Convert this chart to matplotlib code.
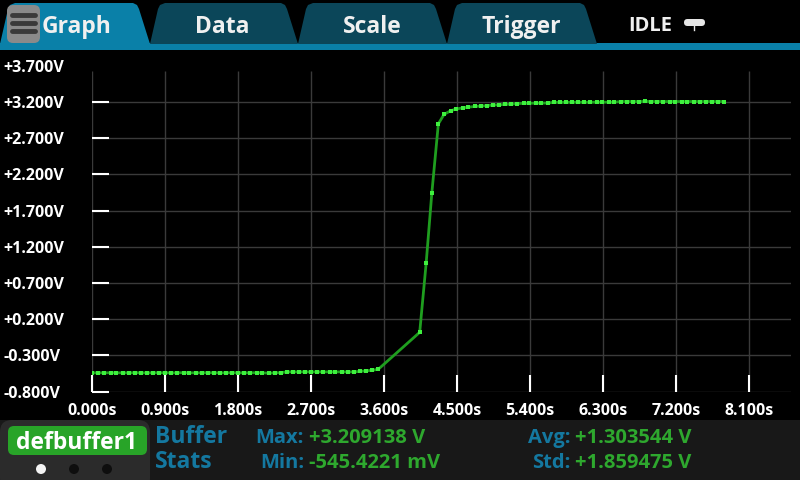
import matplotlib
matplotlib.use('Agg')
import matplotlib.pyplot as plt
from matplotlib.patches import Polygon, Rectangle, FancyBboxPatch, Circle

plt.rcParams['font.family'] = ['Open Sans', 'DejaVu Sans']
plt.rcParams['font.weight'] = 'bold'

# --- data ---
t_low = [0.00, 0.08, 0.15, 0.23, 0.30, 0.38, 0.45, 0.53, 0.60, 0.68, 0.75, 0.83,
         0.90, 0.98, 1.05, 1.13, 1.20, 1.28, 1.35, 1.43, 1.50, 1.58, 1.65, 1.73,
         1.80, 1.88, 1.95, 2.03, 2.10, 2.18, 2.25, 2.33, 2.40, 2.48, 2.55, 2.63,
         2.70, 2.78, 2.85, 2.93, 3.00, 3.08, 3.15, 3.23, 3.30, 3.38, 3.45, 3.53]
v_low = [-0.540, -0.539, -0.540, -0.538, -0.539, -0.540, -0.539, -0.538, -0.539, -0.540, -0.539, -0.538,
         -0.539, -0.540, -0.539, -0.538, -0.539, -0.540, -0.539, -0.538, -0.539, -0.540, -0.539, -0.538,
         -0.539, -0.540, -0.539, -0.538, -0.539, -0.545, -0.539, -0.538, -0.527, -0.526, -0.527, -0.526,
         -0.527, -0.526, -0.527, -0.526, -0.527, -0.526, -0.527, -0.526, -0.520, -0.512, -0.505, -0.490]

t_rise = [4.04, 4.12, 4.19, 4.27]
v_rise = [0.02, 0.98, 1.95, 2.90]

t_high = [4.34, 4.42, 4.49, 4.57, 4.64, 4.72, 4.79, 4.87, 4.94, 5.02, 5.09, 5.17,
          5.24, 5.32, 5.39, 5.47, 5.54, 5.62, 5.69, 5.77, 5.84, 5.92, 5.99, 6.07,
          6.14, 6.22, 6.29, 6.37, 6.44, 6.52, 6.59, 6.67, 6.74, 6.82, 6.89, 6.97,
          7.04, 7.12, 7.19, 7.27, 7.34, 7.42, 7.49, 7.57, 7.64, 7.72, 7.79]
v_high = [3.030, 3.080, 3.105, 3.120, 3.130, 3.140, 3.145, 3.152, 3.158, 3.163, 3.168, 3.172,
          3.180, 3.182, 3.184, 3.185, 3.186, 3.187, 3.197, 3.197, 3.197, 3.198, 3.198, 3.198,
          3.198, 3.199, 3.199, 3.199, 3.199, 3.208, 3.208, 3.208, 3.208, 3.209, 3.208, 3.208,
          3.208, 3.208, 3.208, 3.208, 3.208, 3.208, 3.208, 3.208, 3.208, 3.208, 3.208]

x_ticks = [0.0, 0.9, 1.8, 2.7, 3.6, 4.5, 5.4, 6.3, 7.2, 8.1]
x_labels = ['0.000s', '0.900s', '1.800s', '2.700s', '3.600s', '4.500s',
            '5.400s', '6.300s', '7.200s', '8.100s']
y_ticks = [-0.8, -0.3, 0.2, 0.7, 1.2, 1.7, 2.2, 2.7, 3.2, 3.7]
y_labels = ['-0.800V', '-0.300V', '+0.200V', '+0.700V', '+1.200V', '+1.700V',
            '+2.200V', '+2.700V', '+3.200V', '+3.700V']

tabs = ['Graph', 'Data', 'Scale', 'Trigger']
stats_names = ['Max:', 'Min:', 'Avg:', 'Std:']
stats_values = ['+3.209138 V', '-545.4221 mV', '+1.303544 V', '+1.859475 V']

t_all = t_low + t_rise + t_high
v_all = v_low + v_rise + v_high

BLUE = '#0a80a8'
DARK_TAB = '#0b4659'
LABEL_BLUE = '#1478a0'
VAL_GREEN = '#2ea82e'

fig = plt.figure(figsize=(8, 4.8), dpi=100, facecolor='black')

# screen chrome drawn in pixel coordinates
ui = fig.add_axes([0, 0, 1, 1])
ui.set_xlim(0, 800)
ui.set_ylim(480, 0)
ui.axis('off')
ui.set_zorder(0)

ui.add_patch(Rectangle((0, 43), 800, 7, color=BLUE, lw=0))
tab_x = [(0, 150), (150, 298), (298, 447), (447, 597)]
tab_cx = [77, 222, 372, 521]
for i in [1, 2, 3, 0]:
    x0, x1 = tab_x[i]
    pts = [(x0, 44), (x0 + 8, 9), (x0 + 10, 5), (x0 + 15, 3), (x1 - 17, 3),
           (x1 - 13, 5), (x1 - 11, 9), (x1, 44)]
    ui.add_patch(Polygon(pts, closed=True, color=BLUE if i == 0 else DARK_TAB, lw=0))
    ui.text(tab_cx[i], 33, tabs[i], color='#f0f0f0', fontsize=16.5,
            ha='center', va='baseline')

# menu button
ui.add_patch(FancyBboxPatch((7, 5), 33, 38, boxstyle='round,pad=0,rounding_size=6',
                            color='#8a8a8a', lw=0))
for yy in [15, 23, 31]:
    ui.plot([12, 35], [yy, yy], color='#3a3a3a', lw=3.5, solid_capstyle='round')

ui.text(628, 31, 'IDLE', color='#f0f0f0', fontsize=14.5, ha='left', va='baseline')
ui.add_patch(FancyBboxPatch((684, 19), 21, 7, boxstyle='round,pad=0,rounding_size=3.5',
                            color='#e6e6e6', lw=0))
ui.plot([694, 694], [26, 30], color='#e6e6e6', lw=1)

# bottom stats panel
ui.add_patch(Rectangle((0, 420), 800, 60, color='#181818', lw=0))
ui.add_patch(FancyBboxPatch((0, 420), 150, 70, boxstyle='round,pad=0,rounding_size=12',
                            color='#2b2b2b', lw=0))
ui.add_patch(FancyBboxPatch((8, 426), 139, 29, boxstyle='round,pad=0,rounding_size=6',
                            color='#28a428', lw=0))
ui.text(77, 449, 'defbuffer1', color='white', fontsize=16.5, ha='center', va='baseline')
for cx, col in zip([41, 74, 107], ['#f4f4f4', '#0e0e0e', '#0e0e0e']):
    ui.add_patch(Circle((cx, 469), 5, color=col, lw=0))

ui.text(155, 443, 'Buffer', color=LABEL_BLUE, fontsize=16.5, ha='left', va='baseline')
ui.text(155, 468, 'Stats', color=LABEL_BLUE, fontsize=16.5, ha='left', va='baseline')
name_x = [304, 304, 570, 570]
row_y = [443, 468, 443, 468]
for nm, val, nx, ny in zip(stats_names, stats_values, name_x, row_y):
    ui.text(nx, ny, nm, color=LABEL_BLUE, fontsize=14.5, ha='right', va='baseline')
    ui.text(nx + 5, ny, val, color=VAL_GREEN, fontsize=14.5, ha='left', va='baseline')

# plot area
ax = fig.add_axes([0.115, 0.184, 0.874, 0.6787])
ax.set_zorder(1)
ax.set_facecolor('black')
ax.set_xlim(0, 8.62)
ax.set_ylim(-0.8, 3.7)
for s in ax.spines.values():
    s.set_visible(False)

for y in y_ticks[:-1]:
    ax.axhline(y, color='#3a3a3a', lw=1, zorder=1)
ax.vlines(x_ticks, -0.8, 3.63, color='#3a3a3a', lw=1, zorder=1)

ax.plot(t_all, v_all, color='#1f9e1f', lw=2, marker='s', markersize=3,
        markerfacecolor='#3ef03e', markeredgewidth=0, zorder=3)

ax.set_xticks(x_ticks)
ax.set_xticklabels(x_labels)
ax.set_yticks(y_ticks)
ax.set_yticklabels(y_labels)
ax.tick_params(direction='in', length=12, width=1.5, color='white',
               labelcolor='white', labelsize=11.5)
ax.tick_params(axis='y', pad=64)
ax.tick_params(axis='x', pad=8)
for lbl in ax.get_yticklabels():
    lbl.set_horizontalalignment('left')
    lbl.set_verticalalignment('center_baseline')
ax.yaxis.get_major_ticks()[-1].tick1line.set_visible(False)

fig.savefig('out.png', dpi=100, facecolor='black')
